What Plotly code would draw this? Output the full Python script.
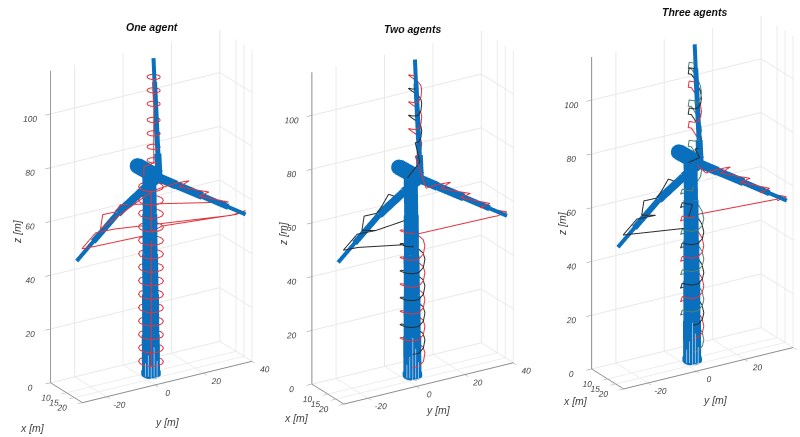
import plotly.graph_objects as go

# Axis settings
X_TICKS = [10, 15, 20]
Y_TICKS = [-20, 0, 20, 40]
Z_TICKS = [0, 20, 40, 60, 80, 100]
TITLES = ["One agent", "Two agents", "Three agents"]

# Turbine geometry [m]
TOWER_X = [12, 12, 12, 12, 12, 12]
TOWER_Y = [3.6, 3.5, 3.4, 3.2, 3.1, 2.9]
TOWER_Z = [0, 15, 30, 45, 60, 74]
HUB = [10, 8.2, 71.6]
NACELLE_END = [1, 5.2, 73.4]
BLADE_UP = [[10, 9.2, 8, 6.8, 6], [8.2, 8.3, 8.4, 8.5, 8.6], [71.6, 80.2, 93, 105.9, 114.5]]
BLADE_RIGHT = [[10, 11.6, 14, 16.4, 18], [8.2, 14.3, 23.5, 32.6, 38.7], [71.6, 68.1, 62.9, 57.7, 54.2]]
BLADE_LEFT = [[10, 9.2, 8, 6.8, 6], [8.2, 1.9, -7.5, -16.8, -23.1], [71.6, 67.9, 61, 52.1, 46]]
STREAK_X = [14.34, 14.87, 15.4, 15.93, 16.46]
STREAK_Y = [-0.22, 0.63, 1.48, 2.33, 3.18]
STREAK_TOP = [6, 9, 16, 12, 7]

# Inspection ring around a section (offsets from section centre, unit radius 4.3 m)
RING_DX = [3.66, 4.3, 3.8, 2.28, 0.15, -2.03, -3.66, -4.3, -3.8, -2.28, -0.15, 2.03, 3.66]
RING_DY = [-2.28, -0.15, 2.03, 3.66, 4.3, 3.8, 2.28, 0.15, -2.03, -3.66, -4.3, -3.8, -2.28]
RISE_ONE = [0, 0, 0, 0, 0, 0, 0, 0, 0, 0, 0, 0, 0]
RISE_TWO = [0, 0.2, 1.5, 3.7, 5, 5.8, 6.5, 7.5, 8.5, 9.2, 9.8, 9.9, 10]
RISE_THREE = [0, 0.3, 1.5, 3, 5, 7, 9, 11, 11.5, 12, 14.8, 15, 15]

# Flag paths on blades, tip to root
RIGHT_X = [16] * 13
RIGHT_Y = [36.3, 40, 35.4, 28.9, 33, 27.3, 20.8, 24.9, 19.2, 12.7, 16.7, 11.9, 6.6]
RIGHT_Z = [54, 54.6, 56.4, 58.7, 59.3, 61.6, 64.2, 64.8, 66.9, 69.4, 70.8, 71.1, 70.8]
LEFT_X = [8] * 10
LEFT_Y = [-16.2, -22.3, -16.6, -8.9, -14.6, -13.7, -8.5, -6.4, -3.6, 1.3]
LEFT_Z = [50.8, 51.1, 55.8, 55.5, 56.8, 61.9, 61.8, 64, 67.8, 65.2]

# Survey levels
ONE_LOW = [5, 10, 15, 20, 25, 30, 35, 40, 45, 50]
ONE_MID = [55, 60, 65, 70]
ONE_TOP = [77, 82, 87, 92, 98, 103, 108]
TWO_RED_LOW = [5, 15, 25, 35, 45]
TWO_BLACK_LOW = [10, 20, 30, 40]
TWO_RED_TOP = [80, 90, 100]
TWO_BLACK_TOP = [85, 95]
THREE_GREEN_LOW = [5, 20, 35, 50]
THREE_RED_LOW = [10, 25, 40]
THREE_BLACK_LOW = [15, 30, 45]
THREE_RED_TOP = [72, 87]
THREE_BLACK_TOP = [77, 92]
THREE_GREEN_TOP = [65, 80, 94]

LOW_C = (12, 3.6)
TOP_C = (7, 8.0)
TOP_R = 0.53
RED, BLACK, GREEN, BLUE = "#e5323c", "#2a2a2a", "#4f8070", "#0a6fbd"
TXT = "#444444"


def helix(levels, rise, centre, r=1.0):
    xs, ys, zs = [], [], []
    for lv in levels:
        for dx, dy, dz in zip(RING_DX, RING_DY, rise):
            xs.append(centre[0] + r * dx)
            ys.append(centre[1] + r * dy)
            zs.append(lv + dz)
    return xs, ys, zs


def chain(*parts):
    out = [[], [], []]
    for p in parts:
        for i in range(3):
            out[i] += list(p[i])
    return out


RIGHT_PATH = (RIGHT_X, RIGHT_Y, RIGHT_Z)

fig = go.Figure()


def line(scene, p, color, width):
    fig.add_trace(go.Scatter3d(x=p[0], y=p[1], z=p[2], mode="lines", scene=scene,
                               line=dict(color=color, width=width), showlegend=False, hoverinfo="skip"))


def turbine(scene):
    widths = [36, 34, 32, 30, 28]
    for i, w in enumerate(widths):
        line(scene, (TOWER_X[i:i + 2], TOWER_Y[i:i + 2], TOWER_Z[i:i + 2]), BLUE, w)
    line(scene, helix([0.7], RISE_ONE, LOW_C, 0.55), BLUE, 14)
    line(scene, ([NACELLE_END[0], HUB[0]], [NACELLE_END[1], HUB[1]], [NACELLE_END[2], HUB[2]]), BLUE, 32)
    fig.add_trace(go.Scatter3d(x=NACELLE_END[:1], y=NACELLE_END[1:2], z=NACELLE_END[2:], mode="markers", scene=scene,
                               marker=dict(size=9, color=BLUE), showlegend=False, hoverinfo="skip"))
    for blade, ws in ((BLADE_UP, [14, 10, 10, 8]), (BLADE_RIGHT, [18, 16, 12, 8]), (BLADE_LEFT, [18, 16, 12, 8])):
        for i, w in enumerate(ws):
            line(scene, (blade[0][i:i + 2], blade[1][i:i + 2], blade[2][i:i + 2]), BLUE, w)
    for sx, sy, top in zip(STREAK_X, STREAK_Y, STREAK_TOP):
        line(scene, ([sx, sx], [sy, sy], [1, top]), "#8dbde6", 2)


# One agent
turbine("scene")
p = chain(
    helix(ONE_LOW, RISE_ONE, LOW_C),
    ([8, 8, 8, 8, 8], [6.6, -16.2, -22.3, -16.6, -8.9], [50.2, 50.8, 51.1, 55.8, 55.5]),
    ([16, 16, 16, 8], [34.2, 40, 36.3, 10.7], [54.1, 54.6, 54, 52.3]),
    helix(ONE_MID, RISE_ONE, LOW_C),
    ([8, 8, 8, 8, 16], [-14.6, -13.7, -8.5, -6.4, 33], [56.8, 61.9, 61.8, 64, 59.3]),
    (RIGHT_X[4:], RIGHT_Y[4:], RIGHT_Z[4:]),
    ([8, 8], [3.3, 3.3], [65.9, 76]),
    helix(ONE_TOP, RISE_ONE, TOP_C, TOP_R),
)
line("scene", p, RED, 2)

# Two agents
turbine("scene2")
r = chain(helix(TWO_RED_LOW, RISE_TWO, LOW_C), ([8, 16], [9, 34.2], [50.4, 54.1]),
          RIGHT_PATH, helix(TWO_RED_TOP, RISE_TWO, TOP_C, TOP_R))
b = chain(helix(TWO_BLACK_LOW, RISE_TWO, LOW_C),
          ([8], [6.6], [47]), (LEFT_X[:4], LEFT_Y[:4], LEFT_Z[:4]), ([8], [7.8], [57]),
          (LEFT_X[3:], LEFT_Y[3:], LEFT_Z[3:]),
          ([8, 10], [4, 8], [72, 78]), helix(TWO_BLACK_TOP, RISE_TWO, TOP_C, TOP_R))
line("scene2", r, RED, 2)
line("scene2", b, BLACK, 2)

# Three agents
turbine("scene3")
r = chain(helix(THREE_RED_LOW, RISE_THREE, LOW_C, 0.93), ([8, 16], [9, 36], [52, 54.6]),
          RIGHT_PATH, helix(THREE_RED_TOP, RISE_THREE, TOP_C, TOP_R))
b = chain(helix(THREE_BLACK_LOW, RISE_THREE, LOW_C, 0.93),
          ([8], [3.3], [48]), (LEFT_X[1:], LEFT_Y[1:], LEFT_Z[1:]),
          ([8, 10], [4, 8], [72, 74]), helix(THREE_BLACK_TOP, RISE_THREE, TOP_C, TOP_R))
g = chain(helix(THREE_GREEN_LOW, RISE_THREE, LOW_C, 0.93), helix(THREE_GREEN_TOP, RISE_THREE, TOP_C, TOP_R))
line("scene3", r, RED, 2)
line("scene3", b, BLACK, 2)
line("scene3", g, GREEN, 2)


def axis(rng, ticks):
    return dict(range=rng, tickvals=ticks, ticktext=[str(t) for t in ticks], title=dict(text=""),
                showbackground=False, showspikes=False, zeroline=False, showline=True,
                linecolor="#8c8c8c", linewidth=2, gridcolor="#e8e8e8", gridwidth=2, tickangle=0,
                ticks="outside", ticklen=6, tickcolor="#8c8c8c", showgrid=True,
                tickfont=dict(family="Liberation Sans", size=10, color=TXT, style="italic"))


R = 4.0
EYE = dict(x=0.78 * R, y=-0.488 * R, z=0.39 * R)
K = 230.0


def scene(dom, sx, su):
    # sx, su: picture shift in px (right, up), turned into a look-at offset
    c = dict(x=-(sx * 0.53 - su * 0.33) / K, y=-(sx * 0.85 + su * 0.207) / K, z=-(su * 0.92) / K)
    return dict(domain=dict(x=[dom[0] / 800, dom[1] / 800], y=[0, 1]),
                xaxis=axis([0, 20], X_TICKS), yaxis=axis([-30, 40], Y_TICKS), zaxis=axis([0, 116], Z_TICKS),
                aspectmode="manual", aspectratio=dict(x=0.276, y=0.915, z=1.55),
                camera=dict(eye=dict(x=EYE["x"] + c["x"], y=EYE["y"] + c["y"], z=EYE["z"] + c["z"]),
                            up=dict(x=0, y=0, z=1), center=c,
                            projection=dict(type="orthographic")))


notes = []
for t, xp, yp in zip(TITLES, [152, 413, 695], [27, 29, 12]):
    notes.append(dict(text=f"<b><i>{t}</i></b>", x=xp, y=yp, showarrow=False, xanchor="center", yanchor="middle",
                      xref="paper", yref="paper", font=dict(family="Liberation Sans", size=10.5, color="#111")))
for t, xp, yp, ang in [("z [m]", 17, 232, -90), ("y [m]", 167, 422, 0), ("x [m]", 32, 428, 0),
                       ("z [m]", 283, 234, -90), ("y [m]", 438, 410, 0), ("x [m]", 296, 418, 0),
                       ("z [m]", 562, 224, -90), ("y [m]", 715, 400, 0), ("x [m]", 575, 401, 0)]:
    notes.append(dict(text=f"<i>{t}</i>", x=xp, y=yp, showarrow=False, textangle=ang, xanchor="center", yanchor="middle",
                      xref="paper", yref="paper", font=dict(family="Liberation Sans", size=10.5, color=TXT)))
for n in notes:
    n["x"] = n["x"] / 800
    n["y"] = 1 - n["y"] / 437

fig.update_layout(width=800, height=437, margin=dict(l=0, r=0, t=0, b=0), paper_bgcolor="white",
                  scene=scene([0, 270], 17, 2.5), scene2=scene([270, 540], 8, 1),
                  scene3=scene([540, 800], 23.5, 17), annotations=notes, showlegend=False)
fig.write_html("out.html", config=dict(displayModeBar=False),
               post_script="document.body.style.margin='0';document.body.style.overflow='hidden';")
